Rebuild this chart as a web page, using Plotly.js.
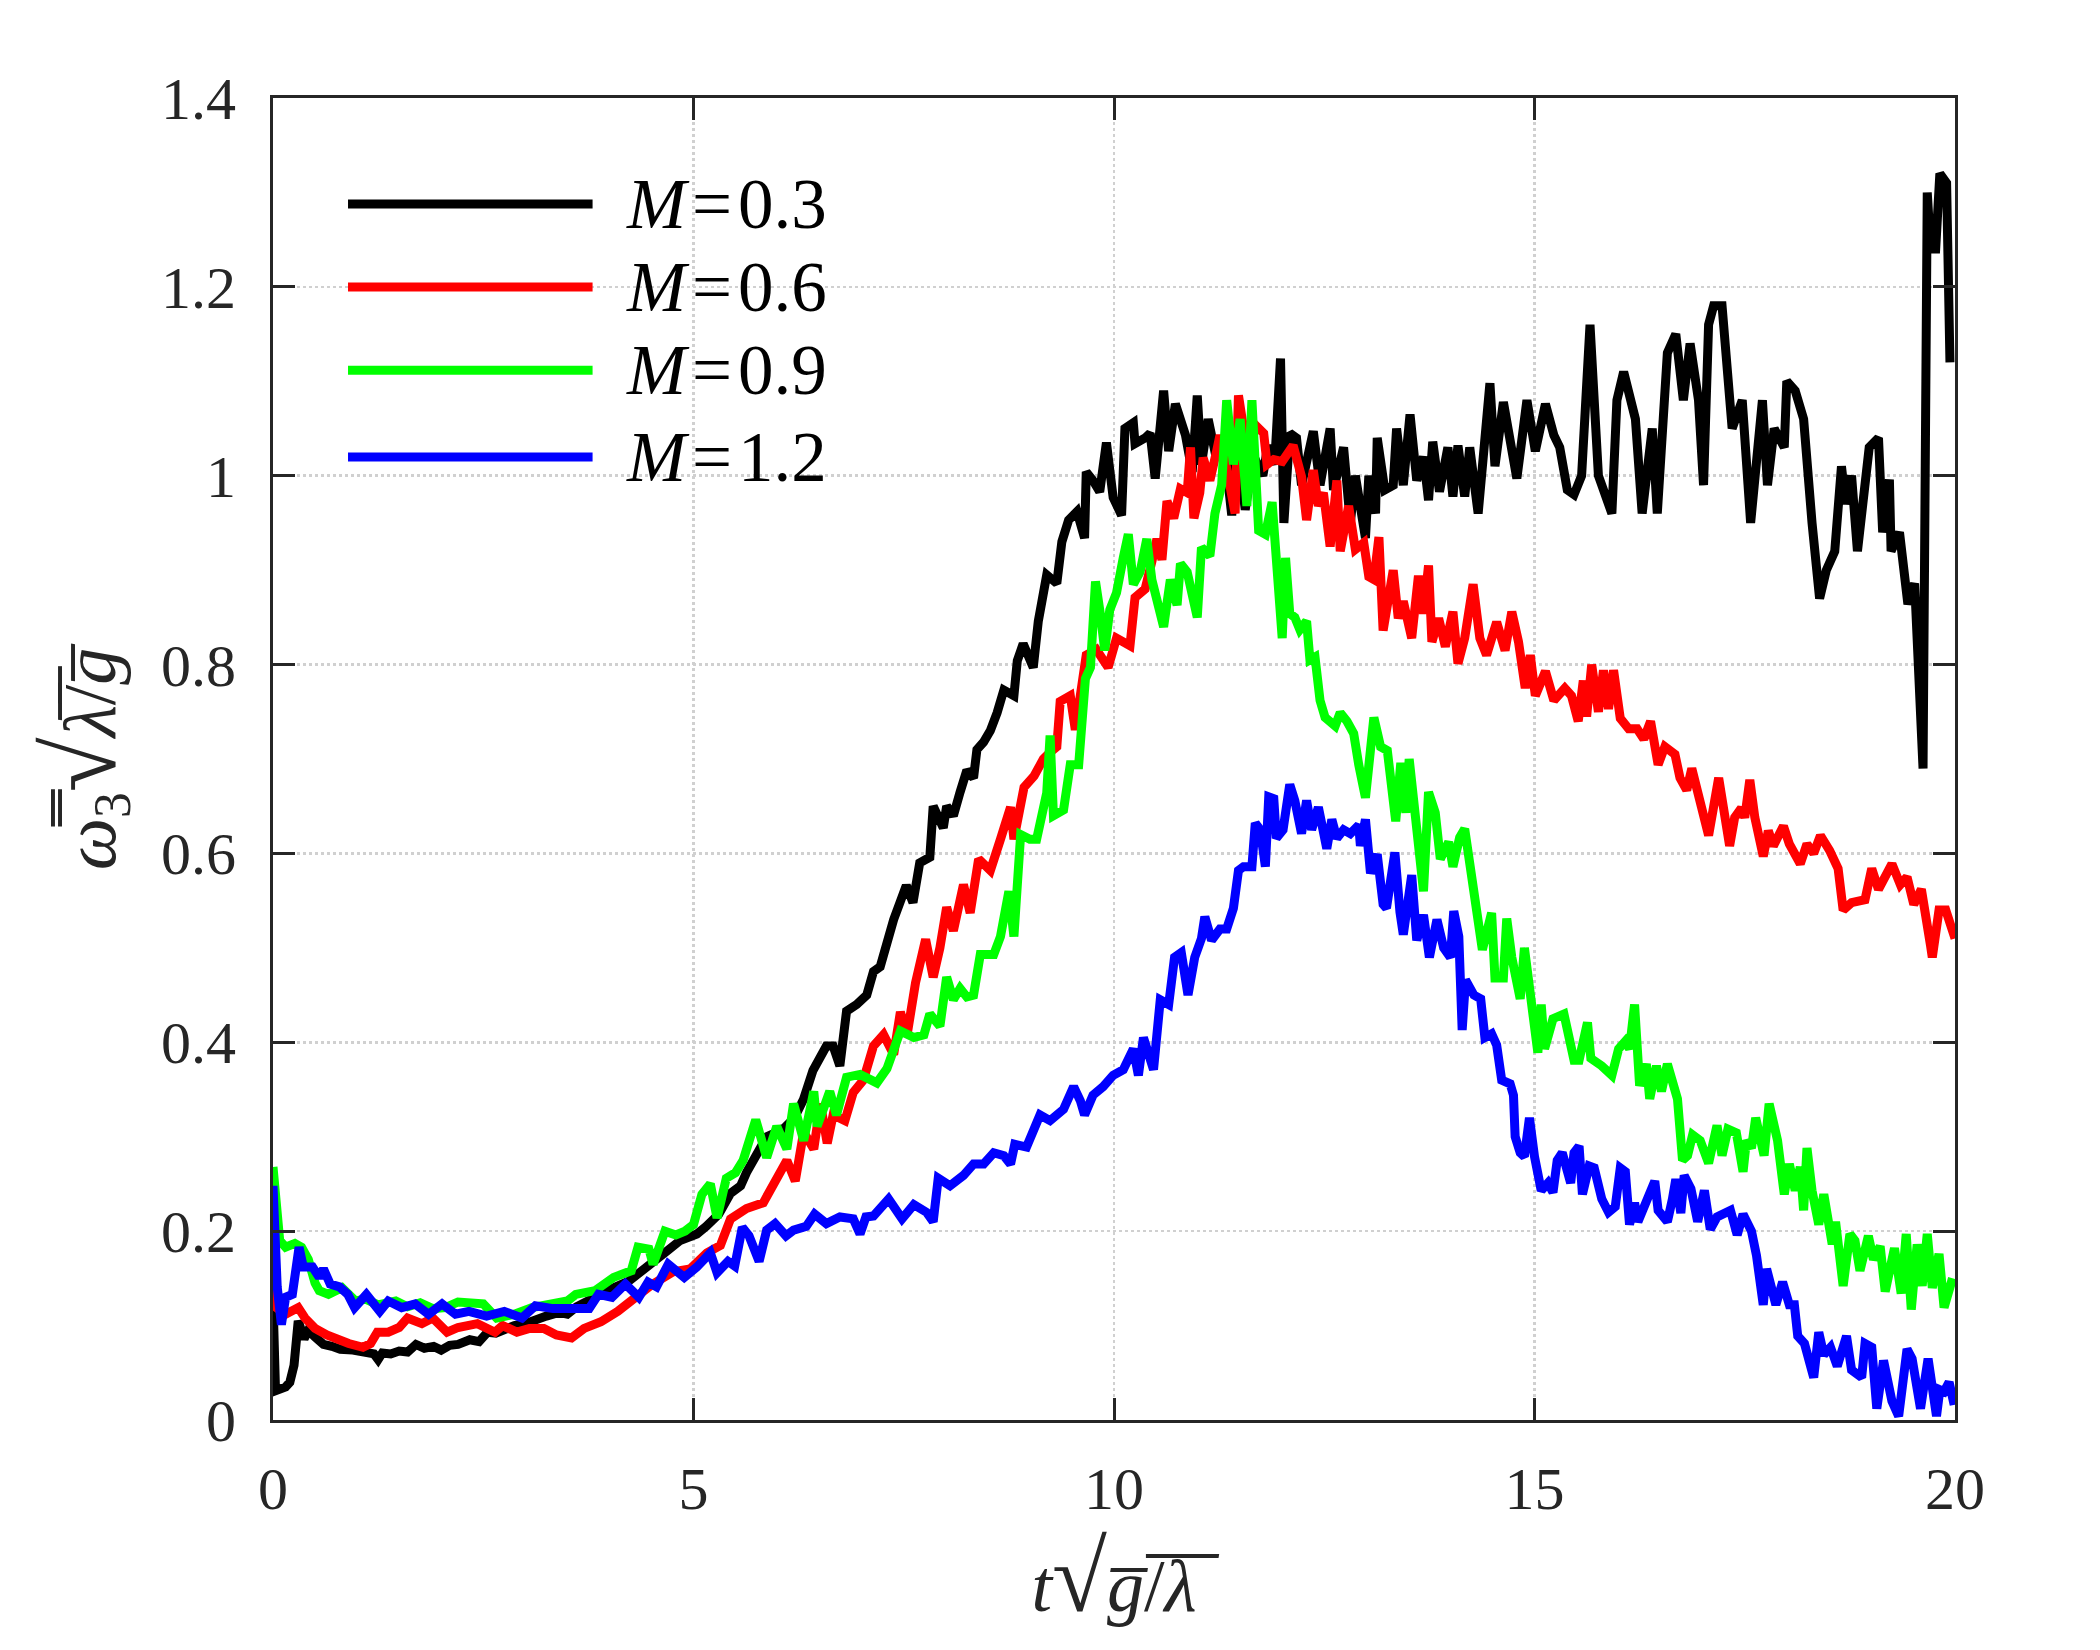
<!DOCTYPE html>
<html>
<head>
<meta charset="utf-8">
<script src="https://cdn.plot.ly/plotly-3.0.1.min.js"></script>
<style>html,body{margin:0;padding:0;background:#fff;}#chart{width:2100px;height:1650px;}</style>
</head>
<body>
<div id="chart"></div>
<script>
// ---- Data ----
var seriesNames = ["M=0.3", "M=0.6", "M=0.9", "M=1.2"];
var seriesColors = ["#000000", "#ff0000", "#00ff00", "#0000ff"];

var t03 = [0,0.03,0.15,0.2,0.25,0.3,0.37,0.42,0.5,0.6,0.7,0.8,0.95,1.08,1.2,1.25,1.3,1.4,1.5,1.6,1.7,1.8,1.91,2.0,2.1,2.2,2.34,2.45,2.55,2.65,2.76,2.87,3.0,3.13,3.25,3.4,3.5,3.61,3.75,3.9,4.05,4.23,4.4,4.55,4.7,4.84,5.04,5.15,5.3,5.44,5.56,5.63,5.75,5.87,6.0,6.09,6.2,6.31,6.42,6.51,6.58,6.66,6.74,6.82,6.94,7.06,7.14,7.22,7.3,7.38,7.53,7.61,7.69,7.81,7.85,7.97,8.01,8.09,8.17,8.25,8.33,8.37,8.45,8.53,8.61,8.69,8.81,8.85,8.92,9.04,9.1,9.2,9.32,9.38,9.46,9.56,9.65,9.67,9.75,9.83,9.91,9.99,10.09,10.13,10.23,10.25,10.37,10.43,10.49,10.59,10.65,10.73,10.85,10.93,10.99,11.04,11.12,11.22,11.3,11.4,11.46,11.56,11.66,11.77,11.83,11.91,11.98,12.02,12.09,12.17,12.23,12.3,12.37,12.45,12.57,12.61,12.73,12.81,12.87,12.99,13.03,13.11,13.13,13.22,13.32,13.36,13.44,13.52,13.6,13.68,13.74,13.79,13.87,13.97,14.03,14.09,14.17,14.23,14.33,14.47,14.53,14.63,14.79,14.91,15.01,15.13,15.23,15.3,15.39,15.47,15.56,15.66,15.76,15.92,15.98,16.06,16.2,16.28,16.4,16.46,16.58,16.68,16.77,16.85,16.95,17.01,17.07,17.13,17.23,17.35,17.47,17.57,17.71,17.77,17.85,17.97,18.0,18.1,18.2,18.3,18.39,18.47,18.57,18.65,18.7,18.77,18.84,18.98,19.09,19.14,19.22,19.24,19.34,19.44,19.52,19.62,19.67,19.71,19.77,19.82,19.9,19.94];
var w03 = [0.128,0.031,0.035,0.04,0.058,0.105,0.086,0.095,0.088,0.08,0.078,0.075,0.074,0.071,0.07,0.064,0.071,0.07,0.073,0.072,0.08,0.076,0.078,0.074,0.079,0.08,0.085,0.083,0.093,0.092,0.096,0.1,0.102,0.107,0.11,0.114,0.112,0.12,0.127,0.135,0.14,0.147,0.16,0.17,0.18,0.19,0.197,0.205,0.218,0.24,0.248,0.262,0.28,0.3,0.305,0.31,0.32,0.34,0.37,0.384,0.396,0.396,0.375,0.433,0.44,0.45,0.475,0.48,0.505,0.53,0.566,0.548,0.59,0.596,0.65,0.627,0.65,0.64,0.665,0.688,0.68,0.71,0.718,0.73,0.749,0.773,0.767,0.804,0.822,0.797,0.846,0.895,0.886,0.93,0.953,0.962,0.934,1.004,0.995,0.983,1.035,0.977,0.958,1.05,1.056,1.034,1.04,1.045,0.997,1.09,1.026,1.076,1.043,1.004,1.085,1.012,1.06,1.017,1.04,0.958,1.043,0.964,1.021,1.0,1.032,1.012,1.124,0.95,1.045,1.04,0.99,1.02,1.047,0.99,1.05,0.985,1.03,0.95,1.0,0.934,1.0,0.96,1.04,0.985,0.99,1.05,0.99,1.065,0.995,1.02,0.974,1.036,0.983,1.03,0.978,1.032,0.978,1.03,0.96,1.098,1.01,1.078,0.997,1.08,1.026,1.076,1.043,1.03,0.985,0.98,1.0,1.16,1.0,0.96,1.08,1.11,1.06,0.96,1.05,0.96,1.13,1.15,1.08,1.14,1.08,0.99,1.16,1.18,1.18,1.05,1.08,0.95,1.08,0.99,1.05,1.03,1.1,1.09,1.06,0.95,0.87,0.9,0.92,1.01,0.97,1.0,0.92,1.03,1.04,0.94,0.996,0.92,0.94,0.864,0.886,0.69,1.30,1.24,1.24,1.32,1.31,1.12];

var t06 = [0,0.04,0.15,0.3,0.38,0.5,0.64,0.76,0.9,1.07,1.16,1.24,1.37,1.5,1.6,1.77,1.9,2.07,2.2,2.43,2.64,2.73,2.9,3.05,3.22,3.37,3.55,3.7,3.9,4.1,4.3,4.5,4.76,4.96,5.16,5.32,5.44,5.63,5.83,5.95,6.11,6.21,6.31,6.43,6.51,6.59,6.66,6.8,6.9,7.02,7.14,7.26,7.38,7.46,7.54,7.64,7.76,7.85,7.93,8.01,8.09,8.21,8.29,8.39,8.53,8.65,8.77,8.81,8.93,9.05,9.16,9.24,9.32,9.36,9.48,9.54,9.67,9.79,9.93,10.03,10.19,10.25,10.37,10.45,10.51,10.57,10.63,10.71,10.79,10.87,10.91,10.95,11.02,11.06,11.14,11.22,11.26,11.34,11.44,11.48,11.56,11.7,11.78,11.82,11.9,12.0,12.13,12.23,12.29,12.37,12.43,12.49,12.57,12.65,12.69,12.79,12.87,12.97,13.03,13.09,13.15,13.2,13.32,13.38,13.44,13.54,13.62,13.68,13.74,13.78,13.86,13.94,14.03,14.09,14.17,14.27,14.35,14.43,14.55,14.65,14.73,14.81,14.89,14.95,15.01,15.13,15.23,15.36,15.44,15.52,15.58,15.62,15.68,15.76,15.82,15.88,15.94,16.02,16.12,16.22,16.3,16.38,16.47,16.55,16.67,16.73,16.81,16.87,16.93,17.07,17.19,17.32,17.38,17.46,17.5,17.56,17.62,17.72,17.78,17.84,17.96,18.03,18.16,18.24,18.32,18.4,18.51,18.61,18.67,18.77,18.93,19.01,19.09,19.25,19.35,19.43,19.51,19.6,19.71,19.73,19.81,19.89,20.0];
var w06 = [0.162,0.119,0.112,0.119,0.108,0.097,0.09,0.085,0.081,0.077,0.081,0.093,0.093,0.098,0.108,0.102,0.108,0.093,0.098,0.102,0.093,0.1,0.093,0.097,0.097,0.09,0.087,0.097,0.104,0.115,0.129,0.143,0.157,0.16,0.177,0.185,0.213,0.224,0.23,0.25,0.275,0.253,0.305,0.287,0.335,0.293,0.323,0.317,0.347,0.36,0.396,0.408,0.387,0.432,0.408,0.463,0.509,0.469,0.5,0.543,0.518,0.567,0.537,0.594,0.582,0.615,0.649,0.615,0.67,0.682,0.7,0.707,0.713,0.761,0.767,0.731,0.81,0.816,0.797,0.828,0.82,0.871,0.88,0.909,0.933,0.911,0.973,0.955,0.986,0.982,1.03,0.955,0.982,1.019,0.995,1.026,1.043,1.008,0.96,1.085,1.039,1.052,1.045,1.012,1.017,1.015,1.032,0.999,0.953,1.006,0.968,0.982,0.925,0.995,0.92,0.968,0.922,0.929,0.893,0.89,0.935,0.836,0.9,0.849,0.867,0.828,0.894,0.854,0.905,0.824,0.849,0.819,0.856,0.801,0.828,0.885,0.828,0.81,0.845,0.815,0.856,0.824,0.775,0.81,0.767,0.793,0.762,0.775,0.767,0.74,0.783,0.745,0.8,0.75,0.794,0.753,0.794,0.743,0.732,0.732,0.721,0.74,0.694,0.713,0.705,0.68,0.667,0.69,0.667,0.619,0.68,0.608,0.638,0.648,0.638,0.678,0.638,0.597,0.624,0.608,0.629,0.61,0.589,0.61,0.6,0.619,0.603,0.584,0.54,0.548,0.551,0.584,0.562,0.589,0.567,0.575,0.546,0.562,0.502,0.49,0.54,0.54,0.51];

var t09 = [0,0.02,0.08,0.15,0.26,0.34,0.42,0.5,0.55,0.66,0.82,0.98,1.1,1.25,1.46,1.6,1.75,1.9,2.05,2.2,2.36,2.5,2.66,2.87,3.08,3.3,3.5,3.6,3.83,4.05,4.26,4.34,4.47,4.52,4.66,4.79,4.9,5.0,5.1,5.2,5.28,5.39,5.5,5.59,5.74,5.87,5.99,6.11,6.19,6.31,6.43,6.47,6.62,6.7,6.82,6.98,7.18,7.3,7.46,7.62,7.74,7.81,7.93,8.01,8.09,8.17,8.25,8.33,8.41,8.57,8.65,8.75,8.81,8.89,9.0,9.08,9.2,9.24,9.28,9.4,9.48,9.58,9.66,9.72,9.78,9.84,9.89,9.95,10.03,10.11,10.17,10.23,10.31,10.39,10.45,10.59,10.67,10.75,10.79,10.87,10.99,11.04,11.14,11.2,11.28,11.34,11.42,11.5,11.58,11.64,11.72,11.8,11.88,12.0,12.04,12.09,12.15,12.21,12.29,12.33,12.39,12.45,12.51,12.63,12.69,12.77,12.85,12.91,12.99,13.09,13.17,13.25,13.35,13.41,13.47,13.51,13.58,13.68,13.74,13.82,13.88,13.98,14.03,14.11,14.17,14.28,14.38,14.49,14.53,14.63,14.67,14.73,14.83,14.88,14.96,15.04,15.08,15.12,15.22,15.35,15.47,15.53,15.63,15.67,15.8,15.88,15.92,16.0,16.08,16.13,16.19,16.25,16.33,16.37,16.45,16.51,16.58,16.7,16.76,16.82,16.88,16.97,17.07,17.17,17.23,17.3,17.4,17.48,17.52,17.58,17.63,17.73,17.79,17.89,17.97,18.03,18.1,18.16,18.2,18.24,18.3,18.38,18.44,18.54,18.58,18.67,18.75,18.81,18.87,18.97,19.03,19.11,19.17,19.28,19.36,19.42,19.48,19.55,19.61,19.67,19.73,19.81,19.87,19.97];
var w09 = [0.268,0.25,0.19,0.183,0.187,0.183,0.17,0.145,0.137,0.133,0.14,0.126,0.128,0.122,0.126,0.12,0.124,0.118,0.119,0.125,0.123,0.123,0.108,0.112,0.119,0.123,0.126,0.133,0.137,0.151,0.158,0.183,0.181,0.165,0.2,0.196,0.2,0.207,0.239,0.25,0.214,0.256,0.262,0.275,0.318,0.278,0.311,0.287,0.335,0.296,0.348,0.311,0.348,0.323,0.363,0.366,0.357,0.372,0.412,0.405,0.408,0.43,0.417,0.469,0.445,0.457,0.448,0.45,0.493,0.493,0.512,0.56,0.512,0.62,0.615,0.615,0.664,0.725,0.64,0.646,0.694,0.694,0.785,0.797,0.888,0.852,0.815,0.858,0.876,0.913,0.938,0.885,0.898,0.933,0.89,0.84,0.89,0.863,0.907,0.898,0.85,0.924,0.915,0.96,0.99,1.08,1.012,1.06,0.968,1.08,0.942,0.938,0.972,0.828,0.913,0.854,0.85,0.837,0.846,0.805,0.808,0.762,0.744,0.735,0.749,0.74,0.727,0.694,0.659,0.744,0.713,0.709,0.634,0.696,0.643,0.7,0.639,0.56,0.665,0.643,0.594,0.612,0.586,0.617,0.626,0.551,0.498,0.537,0.468,0.468,0.531,0.49,0.446,0.5,0.446,0.389,0.44,0.393,0.425,0.43,0.381,0.381,0.421,0.383,0.375,0.37,0.365,0.393,0.401,0.393,0.44,0.354,0.377,0.34,0.375,0.348,0.377,0.34,0.275,0.28,0.302,0.296,0.272,0.312,0.28,0.308,0.304,0.263,0.296,0.288,0.32,0.28,0.335,0.296,0.239,0.271,0.243,0.268,0.222,0.288,0.243,0.207,0.239,0.186,0.21,0.142,0.197,0.19,0.158,0.195,0.17,0.184,0.136,0.182,0.134,0.197,0.117,0.186,0.142,0.197,0.14,0.176,0.119,0.15];

var t12 = [0,0.05,0.1,0.15,0.23,0.31,0.36,0.47,0.55,0.6,0.68,0.79,0.89,0.97,1.11,1.27,1.37,1.53,1.69,1.85,2.01,2.17,2.33,2.54,2.75,2.96,3.12,3.33,3.55,3.76,3.87,4.03,4.19,4.35,4.46,4.56,4.7,4.89,5.04,5.2,5.28,5.41,5.49,5.58,5.66,5.78,5.87,5.97,6.1,6.19,6.34,6.44,6.58,6.74,6.9,6.98,7.05,7.14,7.32,7.48,7.62,7.77,7.85,7.91,8.05,8.21,8.33,8.45,8.57,8.69,8.77,8.82,8.96,9.04,9.12,9.24,9.4,9.52,9.6,9.65,9.75,9.87,9.99,10.11,10.23,10.29,10.35,10.47,10.55,10.65,10.72,10.8,10.88,10.96,11.04,11.08,11.16,11.26,11.34,11.42,11.48,11.54,11.64,11.68,11.74,11.8,11.84,11.9,11.93,12.01,12.09,12.15,12.23,12.29,12.35,12.43,12.53,12.59,12.65,12.73,12.81,12.91,12.93,12.99,13.05,13.13,13.2,13.24,13.34,13.4,13.44,13.54,13.6,13.68,13.75,13.84,13.92,14.0,14.04,14.1,14.14,14.18,14.28,14.36,14.41,14.49,14.55,14.61,14.71,14.75,14.77,14.83,14.88,14.94,15.0,15.08,15.16,15.22,15.27,15.33,15.43,15.47,15.53,15.57,15.65,15.71,15.8,15.88,15.96,16.02,16.08,16.13,16.19,16.23,16.35,16.43,16.47,16.58,16.64,16.68,16.74,16.78,16.86,16.94,17.02,17.09,17.17,17.27,17.33,17.41,17.48,17.58,17.64,17.72,17.76,17.87,17.95,18.03,18.09,18.13,18.21,18.32,18.38,18.44,18.52,18.6,18.71,18.77,18.89,18.93,19.01,19.07,19.15,19.25,19.33,19.43,19.49,19.59,19.68,19.78,19.82,19.87,19.93,19.99];
var w12 = [0.248,0.141,0.101,0.13,0.133,0.183,0.162,0.162,0.151,0.16,0.144,0.141,0.133,0.119,0.133,0.115,0.126,0.119,0.123,0.112,0.123,0.112,0.115,0.11,0.115,0.108,0.121,0.118,0.118,0.118,0.133,0.13,0.144,0.13,0.146,0.141,0.165,0.151,0.162,0.177,0.156,0.168,0.163,0.204,0.195,0.168,0.201,0.208,0.195,0.201,0.205,0.218,0.208,0.215,0.213,0.197,0.215,0.216,0.234,0.213,0.228,0.22,0.21,0.256,0.248,0.259,0.271,0.271,0.283,0.28,0.271,0.292,0.289,0.305,0.323,0.317,0.329,0.353,0.338,0.323,0.344,0.353,0.365,0.371,0.393,0.365,0.405,0.371,0.445,0.44,0.49,0.495,0.45,0.49,0.51,0.533,0.508,0.52,0.52,0.542,0.582,0.586,0.586,0.632,0.625,0.586,0.66,0.658,0.616,0.625,0.673,0.656,0.621,0.656,0.625,0.649,0.605,0.636,0.616,0.625,0.621,0.63,0.608,0.636,0.579,0.599,0.546,0.542,0.601,0.538,0.514,0.577,0.508,0.535,0.49,0.53,0.5,0.49,0.539,0.512,0.413,0.466,0.45,0.446,0.405,0.409,0.397,0.36,0.356,0.344,0.3,0.283,0.279,0.32,0.279,0.243,0.251,0.241,0.275,0.283,0.251,0.283,0.29,0.239,0.269,0.267,0.234,0.22,0.226,0.267,0.263,0.207,0.23,0.21,0.234,0.253,0.222,0.21,0.234,0.255,0.219,0.259,0.245,0.21,0.243,0.202,0.215,0.22,0.222,0.196,0.218,0.2,0.174,0.122,0.16,0.122,0.146,0.122,0.122,0.089,0.081,0.045,0.093,0.069,0.077,0.057,0.089,0.053,0.045,0.081,0.077,0.012,0.063,0.02,0.004,0.075,0.065,0.012,0.065,0.004,0.032,0.03,0.04,0.016];

var xTicks = [0, 5, 10, 15, 20];
var yTicks = [0, 0.2, 0.4, 0.6, 0.8, 1, 1.2, 1.4];

// ---- Build traces ----
var xs = [t03, t06, t09, t12];
var ys = [w03, w06, w09, w12];
var traces = [];
for (var i = 0; i < xs.length; i++) {
  traces.push({
    x: xs[i], y: ys[i], type: 'scatter', mode: 'lines',
    name: seriesNames[i],
    line: {color: seriesColors[i], width: 9},
    showlegend: false, hoverinfo: 'skip'
  });
}

var fontFam = 'Liberation Serif, Times New Roman, serif';

// ---- Legend drawn in the top-left corner ----
var legY = [0.9198, 0.857, 0.794, 0.7284];
var shapes = [], annotations = [];
for (var j = 0; j < seriesNames.length; j++) {
  shapes.push({type: 'line', xref: 'paper', yref: 'paper', x0: 0.0446, x1: 0.190, y0: legY[j], y1: legY[j],
               line: {color: seriesColors[j], width: 9}});
  var parts = seriesNames[j].split('=');
  annotations.push({xref: 'paper', yref: 'paper', x: 0.2087, y: legY[j], xanchor: 'left', yanchor: 'middle',
                    text: '<i>' + parts[0] + '</i>\u200A=\u200A' + parts[1], showarrow: false,
                    font: {family: fontFam, size: 71, color: '#000'}});
}

var axisCommon = {
  showline: true, mirror: 'ticks', linecolor: '#262626', linewidth: 3,
  ticks: 'inside', ticklen: 22, tickwidth: 3, tickcolor: '#262626',
  showgrid: true, gridcolor: '#d0d0d0', gridwidth: 2.5, griddash: 'dot',
  zeroline: false, tickfont: {family: fontFam, size: 60, color: '#262626'}
};

var rad = '<span style="font-size:100px">√</span>';
var layout = {
  width: 2100, height: 1650,
  paper_bgcolor: '#ffffff', plot_bgcolor: '#ffffff',
  margin: {l: 273, r: 145, t: 98, b: 230},
  xaxis: Object.assign({}, axisCommon, {
    range: [0, 20], tickvals: xTicks, ticktext: xTicks.map(String), ticklabelstandoff: 14,
    title: {text: '<i>t</i>' + rad + '<i>g\u0305</i>/\u0305<i>λ\u0305</i>',
            font: {family: fontFam, size: 74, color: '#262626'}, standoff: 8}
  }),
  yaxis: Object.assign({}, axisCommon, {
    range: [0, 1.4], tickvals: yTicks, ticktext: yTicks.map(String), ticklabelstandoff: 22,
    title: {text: '<i>ω\u033F</i><sub>3</sub>' + rad + '<i>λ\u0305</i>/\u0305<i>g\u0305</i>',
            font: {family: fontFam, size: 74, color: '#262626'}, standoff: 22}
  }),
  shapes: shapes,
  annotations: annotations
};

Plotly.newPlot('chart', traces, layout, {displayModeBar: false, staticPlot: true});
</script>
</body>
</html>
